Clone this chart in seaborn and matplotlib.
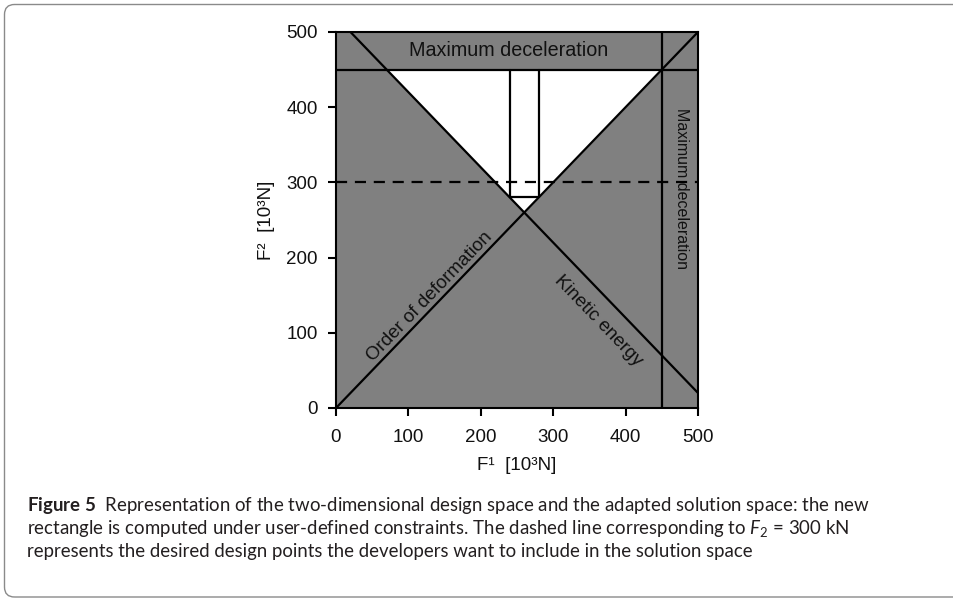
import numpy as np
import pandas as pd
import matplotlib
matplotlib.use("Agg")
import matplotlib.pyplot as plt
import seaborn as sns
from matplotlib.patches import FancyBboxPatch
from matplotlib.transforms import IdentityTransform

# Design space bounds [10^3 N]
f_min, f_max = 0, 500
axis_ticks = [0, 100, 200, 300, 400, 500]

# Constraint values [10^3 N]
kinetic_energy_sum = 520     # F1 + F2 limit from the kinetic energy
max_deceleration = 450       # upper bound on each force
desired_f2 = 300             # desired design points (dashed)

# Adapted solution box
box_f1 = [240, 280]
box_f2 = [280, 450]

# Caption lines
caption_lines = [
    r"$\mathbf{Figure\ 5}$  Representation of the two-dimensional design space and the adapted solution space: the new",
    r"rectangle is computed under user-defined constraints. The dashed line corresponding to $F_2$ = 300 kN",
    r"represents the desired design points the developers want to include in the solution space",
]

sns.set_theme(style="ticks")
plt.rcParams["font.family"] = ["Liberation Sans", "DejaVu Sans"]
plt.rcParams["mathtext.fontset"] = "custom"
plt.rcParams["mathtext.rm"] = "Lato"
plt.rcParams["mathtext.it"] = "Lato:italic"
plt.rcParams["mathtext.bf"] = "Lato:bold"

W, H = 954, 598
fig = plt.figure(figsize=(W / 100, H / 100), dpi=100)
fig.patch.set_facecolor("white")

ax = fig.add_axes([336 / W, (H - 408) / H, 362 / W, 376 / H])
ax.set_facecolor("#808080")
ax.set_xlim(f_min, f_max)
ax.set_ylim(f_min, f_max)

LW = 1.6
FS = 13.5
INK = "#111111"

# Feasible (white) region: above both diagonals, below the deceleration limit
x_left = kinetic_energy_sum - max_deceleration
x_mid = kinetic_energy_sum / 2
region = pd.DataFrame({
    "F1": [x_left, x_mid, max_deceleration],
    "lower": [max_deceleration, x_mid, max_deceleration],
})
ax.fill_between(region["F1"], region["lower"], max_deceleration,
                color="white", lw=0, zorder=1)

# Order of deformation: F2 = F1
order_df = pd.DataFrame({"F1": [f_min, f_max], "F2": [f_min, f_max]})
sns.lineplot(data=order_df, x="F1", y="F2", color="black", lw=LW,
             estimator=None, sort=False, ax=ax, zorder=3)

# Kinetic energy: F1 + F2 = const
ke_f1 = np.array([kinetic_energy_sum - f_max, f_max])
kinetic_df = pd.DataFrame({"F1": ke_f1, "F2": kinetic_energy_sum - ke_f1})
sns.lineplot(data=kinetic_df, x="F1", y="F2", color="black", lw=LW,
             estimator=None, sort=False, ax=ax, zorder=3)

# Maximum deceleration limits
ax.axhline(max_deceleration, color="black", lw=LW, zorder=3)
ax.axvline(max_deceleration, color="black", lw=LW, zorder=3)

# Desired F2 level
ax.axhline(desired_f2, color="black", lw=LW, ls=(0, (5, 3.5)), zorder=4)

# Solution box (open at the top, closed by the deceleration line)
box_df = pd.DataFrame({
    "F1": [box_f1[0], box_f1[0], box_f1[1], box_f1[1]],
    "F2": [box_f2[1], box_f2[0], box_f2[0], box_f2[1]],
})
sns.lineplot(data=box_df, x="F1", y="F2", color="black", lw=LW,
             estimator=None, sort=False, ax=ax, zorder=3)

# Axes styling
ax.set_xticks(axis_ticks)
ax.set_yticks(axis_ticks)
for s in ax.spines.values():
    s.set_visible(True)
    s.set_color("black")
    s.set_linewidth(1.5)
    s.set_zorder(5)
ax.tick_params(axis="both", direction="out", length=6, width=1.5,
               color="black", labelsize=FS, labelcolor=INK)
ax.tick_params(axis="x", pad=9)
ax.tick_params(axis="y", pad=7)
ax.set_xlabel("F¹  [10³N]", fontsize=FS, color=INK, labelpad=8)
ax.set_ylabel("F²  [10³N]", fontsize=FS, color=INK, labelpad=8)


def line_angle(p0, p1):
    a = ax.transData.transform(p0)
    b = ax.transData.transform(p1)
    return np.degrees(np.arctan2(b[1] - a[1], b[0] - a[0]))


txt_kw = dict(fontsize=FS, color=INK, ha="center", va="center",
              rotation_mode="anchor", textcoords="offset points",
              annotation_clip=False, zorder=6)

th = line_angle((f_min, f_min), (f_max, f_max))
r = np.radians(th)
d = 7.2
ax.annotate("Order of deformation", xy=(139, 139),
            xytext=(-d * np.sin(r), d * np.cos(r)), rotation=th, **txt_kw)

th = line_angle((ke_f1[0], kinetic_energy_sum - ke_f1[0]),
                (ke_f1[1], kinetic_energy_sum - ke_f1[1]))
r = np.radians(th)
d = 16
ax.annotate("Kinetic energy", xy=(384, kinetic_energy_sum - 384),
            xytext=(d * np.sin(r), -d * np.cos(r)), rotation=th, **txt_kw)

ax.text(238, 475, "Maximum deceleration", fontsize=14.2, color=INK,
        ha="center", va="center", zorder=6)
ax.text(477, 292, "Maximum deceleration", fontsize=11.5, color=INK,
        ha="center", va="center", rotation=-90, zorder=6)

# Caption frame with rounded corners
frame = FancyBboxPatch((4.5, 1.0), 1000, H - 5.5,
                       boxstyle="round,pad=0,rounding_size=10",
                       transform=IdentityTransform(), fill=False,
                       edgecolor="#8a8a8a", lw=1.0)
fig.patches.append(frame)

for i, line in enumerate(caption_lines):
    fig.text(27 / W, (H - 511 - 23 * i) / H, line, fontsize=13.4,
             family="Lato", color="#231f20", ha="left", va="baseline")

fig.savefig("out.png", dpi=100)
